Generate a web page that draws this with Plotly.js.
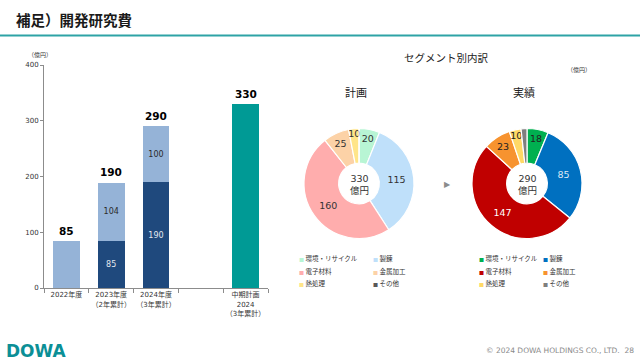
<!DOCTYPE html>
<html>
<head>
<meta charset="utf-8">
<script src="https://cdn.plot.ly/plotly-3.0.1.min.js"></script>
<style>html,body{margin:0;padding:0;background:#fff;}#chart{width:640px;height:360px;}</style>
</head>
<body>
<div id="chart"></div>
<script>
// ---- Bar chart data ----
const categoryIds = ['FY2022', 'FY2023', 'FY2024', 'gap', 'plan'];
const categoryLabels = ['2022年度', '2023年度<br>（2年累計）', '2024年度<br>（3年累計）', '', '中期計画<br>2024<br>（3年累計）'];
const priorCats = ['FY2023', 'FY2024'];
const priorValues = [85, 190];
const yearCats = ['FY2022', 'FY2023', 'FY2024'];
const yearValues = [85, 104, 100];
const yearShowLabel = [false, true, true];
const planCats = ['plan'];
const planValues = [330];
const totalCats = ['FY2022', 'FY2023', 'FY2024', 'plan'];
const totalValues = [85, 190, 290, 330];
const yTicks = [0, 100, 200, 300, 400];

// ---- Donut data ----
const segments = ['環境・リサイクル', '製錬', '電子材料', '金属加工', '熱処理', 'その他'];
const planSegValues = [20, 115, 160, 25, 10, 0];
const actualSegValues = [18, 85, 147, 23, 10, 5];
const planTotal = 330;
const actualTotal = 290;
const planColors = ['#b8f5d4', '#bfe0fa', '#ffadad', '#fcd2a7', '#ffe589', '#595959'];
const actualColors = ['#00b050', '#0070c0', '#c00000', '#f7932f', '#ffd966', '#7f7f7f'];
const actualTextColors = ['#222', '#dce8f6', '#ffffff', '#222', '#222', '#fff'];

const NUM = 'DejaVu Sans, Noto Sans CJK JP, sans-serif';
const JP = 'Noto Sans CJK JP, sans-serif';
const W = 640, H = 360;
const px = x => x / W;
const py = y => 1 - y / H;

const traces = [
  {
    type: 'bar', x: priorCats, y: priorValues, width: 0.6,
    marker: {color: '#1f497d'},
    text: priorValues.map(String), textposition: 'inside', insidetextanchor: 'middle',
    textangle: 0, constraintext: 'none',
    textfont: {family: NUM, size: 8, color: '#e4e8ef'},
    hoverinfo: 'none', showlegend: false
  },
  {
    type: 'bar', x: yearCats, y: yearValues, width: 0.6,
    marker: {color: '#95b3d7'},
    text: yearValues.map((v, i) => yearShowLabel[i] ? String(v) : ''),
    textposition: 'inside', insidetextanchor: 'middle', textangle: 0, constraintext: 'none',
    textfont: {family: NUM, size: 8, color: '#2b2b2b'},
    hoverinfo: 'none', showlegend: false
  },
  {
    type: 'bar', x: planCats, y: planValues, width: 0.6,
    marker: {color: '#009a95'},
    hoverinfo: 'none', showlegend: false
  },
  {
    type: 'pie', values: planSegValues, labels: segments, sort: false,
    direction: 'clockwise', rotation: 0, hole: 0.37,
    domain: {x: [px(304), px(414)], y: [py(238.5), py(128.5)]},
    marker: {colors: planColors, line: {color: '#ffffff', width: 1.2}},
    textinfo: 'text', text: planSegValues.map(v => v >= 10 ? String(v) : ''),
    textposition: 'inside', insidetextorientation: 'horizontal',
    textfont: {family: NUM, size: 9.5, color: '#333'},
    hoverinfo: 'none', showlegend: false
  },
  {
    type: 'pie', values: actualSegValues, labels: segments, sort: false,
    direction: 'clockwise', rotation: 0, hole: 0.37,
    domain: {x: [px(472), px(582)], y: [py(238.5), py(128.5)]},
    marker: {colors: actualColors, line: {color: '#ffffff', width: 1.2}},
    textinfo: 'text', text: actualSegValues.map(v => v >= 10 ? String(v) : ''),
    textposition: 'inside', insidetextorientation: 'horizontal',
    textfont: {family: NUM, size: 9.5, color: actualTextColors},
    hoverinfo: 'none', showlegend: false
  }
];

const annotations = [];
// page title
annotations.push({xref: 'paper', yref: 'paper', x: px(14), y: py(19), xanchor: 'left', yanchor: 'middle',
  text: '<b>補足）開発研究費</b>', showarrow: false, font: {family: JP, size: 14.5, color: '#1a1a1a'}});
// bar unit
annotations.push({xref: 'paper', yref: 'paper', x: px(40), y: py(54), xanchor: 'center', yanchor: 'middle',
  text: '（億円）', showarrow: false, font: {family: JP, size: 6, color: '#333'}});
// bar totals
totalCats.forEach((c, i) => annotations.push({xref: 'x', yref: 'y', x: c, y: totalValues[i],
  xanchor: 'center', yanchor: 'bottom', yshift: 2, text: '<b>' + totalValues[i] + '</b>', showarrow: false,
  font: {family: NUM, size: 10.5, color: '#000'}}));
// donut section titles
annotations.push({xref: 'paper', yref: 'paper', x: px(446), y: py(57), xanchor: 'center', yanchor: 'middle',
  text: 'セグメント別内訳', showarrow: false, font: {family: JP, size: 10.5, color: '#222'}});
annotations.push({xref: 'paper', yref: 'paper', x: px(579), y: py(70), xanchor: 'center', yanchor: 'middle',
  text: '（億円）', showarrow: false, font: {family: JP, size: 6, color: '#333'}});
annotations.push({xref: 'paper', yref: 'paper', x: px(356), y: py(92), xanchor: 'center', yanchor: 'middle',
  text: '計画', showarrow: false, font: {family: JP, size: 11, color: '#222'}});
annotations.push({xref: 'paper', yref: 'paper', x: px(524), y: py(92), xanchor: 'center', yanchor: 'middle',
  text: '実績', showarrow: false, font: {family: JP, size: 11, color: '#222'}});
// donut centers
[[planTotal, 359], [actualTotal, 527]].forEach(([t, cx]) => annotations.push({xref: 'paper', yref: 'paper',
  x: px(cx), y: py(184), xanchor: 'center', yanchor: 'middle', text: t + '<br>億円', showarrow: false,
  font: {family: NUM, size: 9.5, color: '#333'}}));
// arrow between donuts
annotations.push({xref: 'paper', yref: 'paper', x: px(447), y: py(185), xanchor: 'center', yanchor: 'middle',
  text: '▶', showarrow: false, font: {family: NUM, size: 8, color: '#8c8c8c'}});
// legends
function legend(colors, col1x, col2x) {
  segments.forEach((s, i) => {
    const row = Math.floor(i / 2), col = i % 2;
    annotations.push({xref: 'paper', yref: 'paper', x: px(col === 0 ? col1x : col2x), y: py([258, 270.5, 283][row]),
      xanchor: 'left', yanchor: 'middle', showarrow: false,
      text: '<span style="color:' + colors[i] + ';font-size:5px">■</span> ' + s,
      font: {family: JP, size: 6.5, color: '#333'}});
  });
}
legend(planColors, 297, 371);
legend(actualColors, 477, 541);
// footer
annotations.push({xref: 'paper', yref: 'paper', x: px(4), y: py(350.5), xanchor: 'left', yanchor: 'middle',
  text: '<b>DOWA</b>', showarrow: false, font: {family: 'DejaVu Sans, sans-serif', size: 17, color: '#0b8f96'}});
annotations.push({xref: 'paper', yref: 'paper', x: px(636), y: py(350), xanchor: 'right', yanchor: 'middle',
  text: '© 2024 DOWA HOLDINGS CO., LTD.  28', showarrow: false, font: {family: NUM, size: 7.5, color: '#8a8a8a'}});

const layout = {
  width: W, height: H,
  margin: {l: 0, r: 0, t: 0, b: 0},
  paper_bgcolor: '#fff', plot_bgcolor: 'rgba(0,0,0,0)',
  barmode: 'stack', showlegend: false,
  uniformtext: {mode: 'show', minsize: 8},
  xaxis: {
    domain: [px(44), px(268)], type: 'category',
    categoryorder: 'array', categoryarray: categoryIds,
    tickmode: 'array', tickvals: categoryIds, ticktext: categoryLabels, tickangle: 0,
    tickson: 'boundaries', ticks: 'outside', ticklen: 4, tickcolor: '#8c8c8c',
    showline: true, linecolor: '#8c8c8c', linewidth: 1, showgrid: false, zeroline: false,
    tickfont: {family: NUM, size: 7, color: '#333'}, fixedrange: true
  },
  yaxis: {
    domain: [py(288), py(65)], range: [0, 400], tickmode: 'array', tickvals: yTicks,
    ticks: 'outside', ticklen: 3, tickcolor: '#8c8c8c',
    showline: true, linecolor: '#8c8c8c', linewidth: 1, showgrid: false, zeroline: false,
    tickfont: {family: NUM, size: 7, color: '#333'}, fixedrange: true
  },
  shapes: [
    {type: 'line', xref: 'paper', yref: 'paper', x0: 0, x1: 1, y0: py(35.5), y1: py(35.5),
      line: {color: '#2ea3a6', width: 2}}
  ],
  annotations: annotations
};

Plotly.newPlot('chart', traces, layout, {displayModeBar: false, staticPlot: true});
</script>
</body>
</html>
